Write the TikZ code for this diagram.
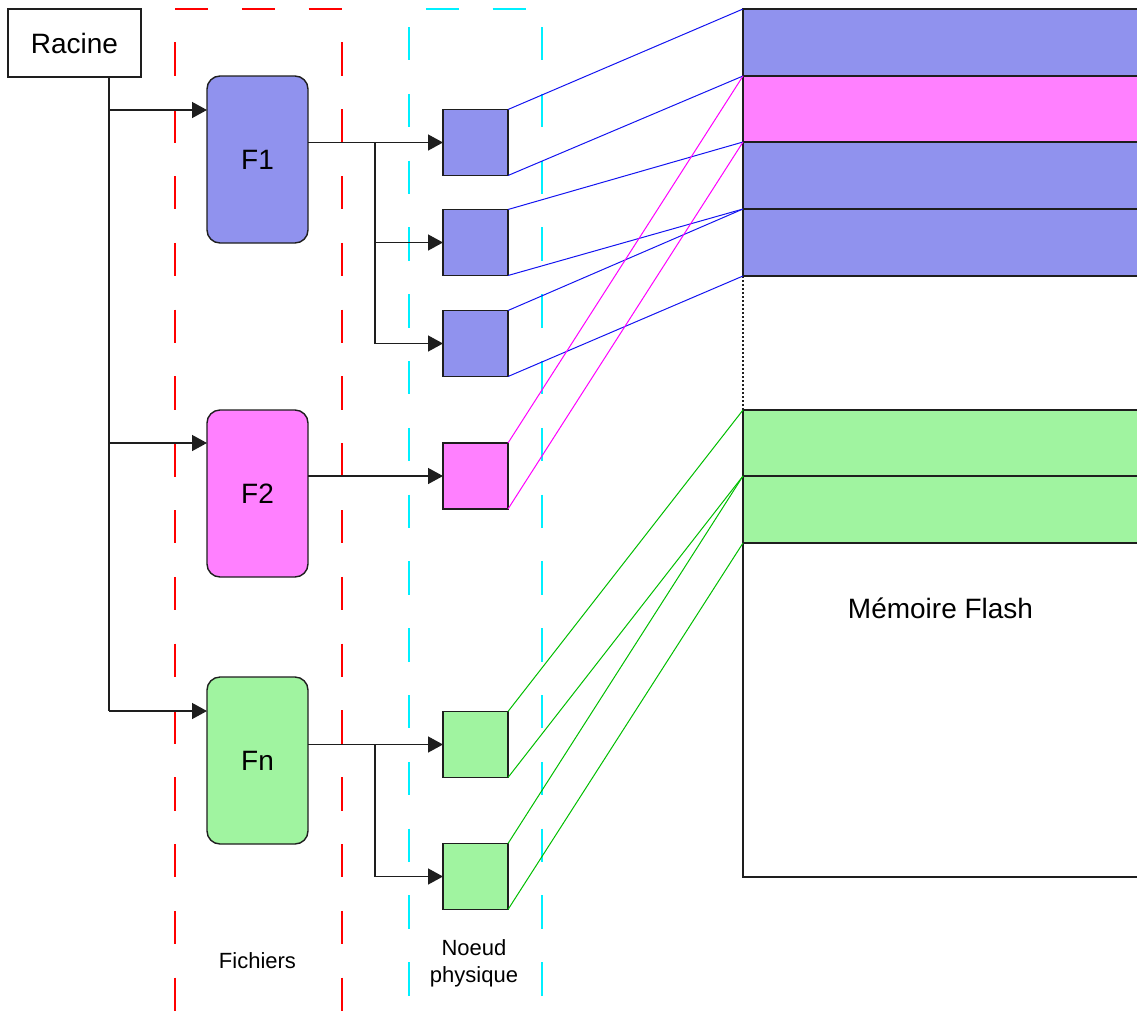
\documentclass[tikz,border=0pt]{standalone}
\usepackage{fontspec}
\setmainfont{Liberation Sans}
\usetikzlibrary{arrows.meta}
\definecolor{fblue}{RGB}{144,146,238}
\definecolor{fpink}{RGB}{255,128,255}
\definecolor{fgreen}{RGB}{160,244,160}
\definecolor{lblue}{RGB}{20,20,240}
\definecolor{lpink}{RGB}{255,0,255}
\definecolor{lgreen}{RGB}{0,190,0}
\definecolor{dred}{RGB}{255,0,0}
\definecolor{dcyan}{RGB}{0,240,255}
\definecolor{ink}{RGB}{30,30,30}
\begin{document}
\begin{tikzpicture}[x=1pt,y=-1pt,
  line/.style={line width=1.4pt, draw=ink},
  arr/.style={line, -{Triangle[length=15pt,width=16pt]}},
  bigtext/.style={font=\fontsize{28}{33}\selectfont},
  smalltext/.style={font=\fontsize{22}{27}\selectfont, align=center},
  filebox/.style={draw=ink, line width=1.4pt, rounded corners=13pt, minimum width=101pt, minimum height=167pt, inner sep=0pt, outer sep=0pt, bigtext},
  physbox/.style={draw=ink, line width=1.4pt, minimum width=65pt, minimum height=66pt, inner sep=0pt, outer sep=0pt},
  memblock/.style={draw=ink, line width=1.4pt, minimum width=420pt, inner sep=0pt, outer sep=0pt, anchor=north west},
  reddash/.style={draw=dred, line width=1.3pt, dash pattern=on 33.4pt off 33.4pt},
  cyandash/.style={draw=dcyan, line width=1.3pt, dash pattern=on 33.4pt off 33.4pt},
  bl/.style={draw=lblue, line width=1pt},
  pk/.style={draw=lpink, line width=1pt},
  gr/.style={draw=lgreen, line width=1pt}
]
\useasboundingbox (0,0) rectangle (1137,1010);
\clip (0,0) rectangle (1137,1010);

% dashed column frames
\draw[reddash] (175,9) -- (342,9);
\draw[reddash, dash phase=33.4pt] (175,9) -- (175,1012);
\draw[reddash, dash phase=33.4pt] (342,9) -- (342,1012);
\draw[cyandash, dash phase=50pt] (409,9) -- (542,9);
\draw[cyandash, dash phase=48.8pt] (409,9) -- (409,1012);
\draw[cyandash, dash phase=48.8pt] (542,9) -- (542,1012);

% root
\node[draw=ink, line width=1.4pt, minimum width=133pt, minimum height=68pt, inner sep=0pt, outer sep=0pt, bigtext] (racine) at (74.5,43) {Racine};

% files
\node[filebox, fill=fblue] (F1) at (257.5,159.5) {F1};
\node[filebox, fill=fpink] (F2) at (257.5,493.5) {F2};
\node[filebox, fill=fgreen] (Fn) at (257.5,760.5) {Fn};

% physical nodes
\node[physbox, fill=fblue] (p11) at (475.5,142.5) {};
\node[physbox, fill=fblue] (p12) at (475.5,242.5) {};
\node[physbox, fill=fblue] (p13) at (475.5,343.5) {};
\node[physbox, fill=fpink] (p2) at (475.5,476) {};
\node[physbox, fill=fgreen] (pn1) at (475.5,744.5) {};
\node[physbox, fill=fgreen] (pn2) at (475.5,876.5) {};

% flash memory
\node[memblock, fill=fblue, minimum height=67pt] (m1) at (743,9) {};
\node[memblock, fill=fpink, minimum height=66pt] (m2) at (743,76) {};
\node[memblock, fill=fblue, minimum height=67pt] (m3) at (743,142) {};
\node[memblock, fill=fblue, minimum height=67pt] (m4) at (743,209) {};
\node[memblock, fill=fgreen, minimum height=66pt] (g1) at (743,410) {};
\node[memblock, fill=fgreen, minimum height=67pt] (g2) at (743,476) {};
\node[memblock, minimum height=334pt] (mw) at (743,543) {};
\node[bigtext, anchor=base] (flash) at (940.5,618) {Mémoire Flash};
\draw[draw=ink, line width=1.3pt, dash pattern=on 2pt off 2pt] (m4.south west) -- (g1.north west);

% labels
\node[smalltext, anchor=base] (lfich) at (257.5,968) {Fichiers};
\node[smalltext, anchor=base] (lnoeud) at (474,982) {Noeud\\physique};

% tree connectors
\coordinate (tx) at (109,0);
\coordinate (jx) at (375,0);
\coordinate (F1in) at ([yshift=49.5pt]F1.west);
\coordinate (F2in) at ([yshift=50.5pt]F2.west);
\coordinate (Fnin) at ([yshift=49.5pt]Fn.west);
\draw[line] (racine.south -| tx) -- (tx |- Fnin);
\draw[arr] (tx |- F1in) -- (F1in);
\draw[arr] (tx |- F2in) -- (F2in);
\draw[arr] (tx |- Fnin) -- (Fnin);

\draw[arr] (F1.east |- p11.west) -- (p11.west);
\draw[line] (jx |- p11.west) -- (jx |- p13.west);
\draw[arr] (jx |- p12.west) -- (p12.west);
\draw[arr] (jx |- p13.west) -- (p13.west);
\draw[arr] (F2.east |- p2.west) -- (p2.west);
\draw[arr] (Fn.east |- pn1.west) -- (pn1.west);
\draw[line] (jx |- pn1.west) -- (jx |- pn2.west);
\draw[arr] (jx |- pn2.west) -- (pn2.west);

% mapping lines
\draw[bl] (p11.north east) -- (m1.north west);
\draw[bl] (p11.south east) -- (m2.north west);
\draw[bl] (p12.north east) -- (m3.north west);
\draw[bl] (p12.south east) -- (m4.north west);
\draw[bl] (p13.north east) -- (m4.north west);
\draw[bl] (p13.south east) -- (m4.south west);
\draw[pk] (p2.north east) -- (m2.north west);
\draw[pk] (p2.south east) -- (m3.north west);
\draw[gr] (pn1.north east) -- (g1.north west);
\draw[gr] (pn1.south east) -- (g2.north west);
\draw[gr] (pn2.north east) -- (g2.north west);
\draw[gr] (pn2.south east) -- (mw.north west);
\end{tikzpicture}
\end{document}
